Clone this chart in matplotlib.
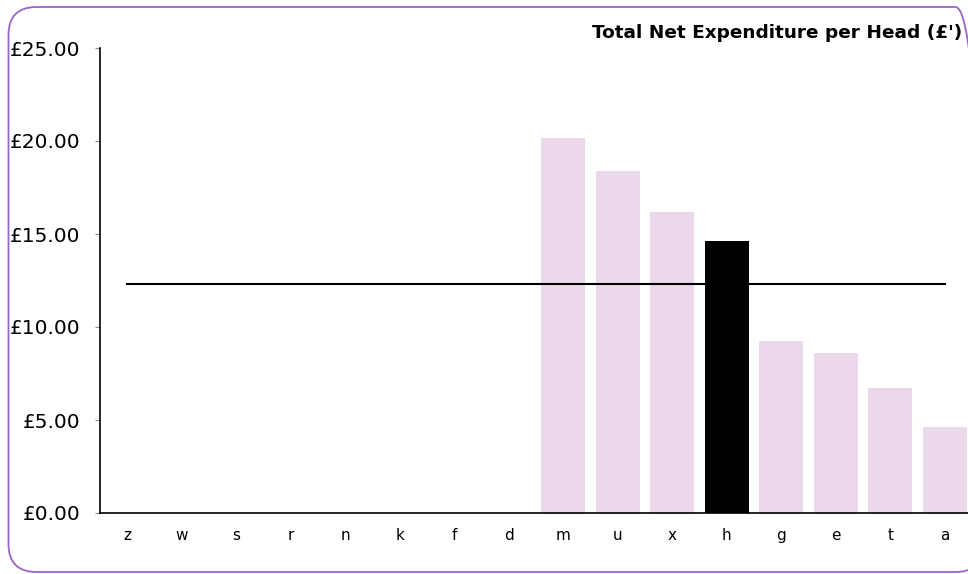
import matplotlib
matplotlib.use("Agg")
import matplotlib.pyplot as plt
from matplotlib.patches import FancyBboxPatch

# data
areas = ["z", "w", "s", "r", "n", "k", "f", "d", "m", "u", "x", "h", "g", "e", "t", "a"]
spend = [0, 0, 0, 0, 0, 0, 0, 0, 20.15, 18.4, 16.2, 14.6, 9.25, 8.6, 6.7, 4.65]
highlight = "h"
average = 12.3
yticks = [0, 5, 10, 15, 20, 25]

bar_colors = ["#000000" if a == highlight else "#ebd9eb" for a in areas]

fig = plt.figure(figsize=(9.68, 5.74), dpi=100)

# rounded purple frame around the whole chart (inches, so the corners stay round)
frame = FancyBboxPatch((0.085, 0.02), 9.75, 5.65,
                       boxstyle="round,pad=0,rounding_size=0.28",
                       transform=fig.dpi_scale_trans, facecolor="none",
                       edgecolor="#9a66c4", linewidth=1.3, clip_on=False)
fig.patches.append(frame)

ax = fig.add_axes([100 / 968, 61 / 574, 872 / 968, 465 / 574])
x = range(len(areas))
ax.bar(x, spend, width=0.8, color=bar_colors, zorder=2)
ax.plot([0, len(areas) - 1], [average, average], color="black", linewidth=1.5, zorder=3)

ax.set_xlim(-0.5, len(areas) - 0.5)
ax.set_ylim(0, 25)
ax.set_xticks(list(x))
ax.set_xticklabels(areas, fontsize=11)
ax.set_yticks(yticks)
ax.set_yticklabels([f"£{v:.2f}" for v in yticks], fontsize=14.5)
ax.tick_params(axis="x", length=0, pad=11)
ax.tick_params(axis="y", length=3.6, color="#888888", pad=10.5)
for s in ["top", "right"]:
    ax.spines[s].set_visible(False)
ax.spines["left"].set_linewidth(1.2)
ax.spines["bottom"].set_linewidth(1.2)

fig.text(962 / 968, 1 - 33 / 574, "Total Net Expenditure per Head (£')",
         ha="right", va="center", fontsize=13.3, fontweight="bold")

fig.savefig("out.png", dpi=100)
